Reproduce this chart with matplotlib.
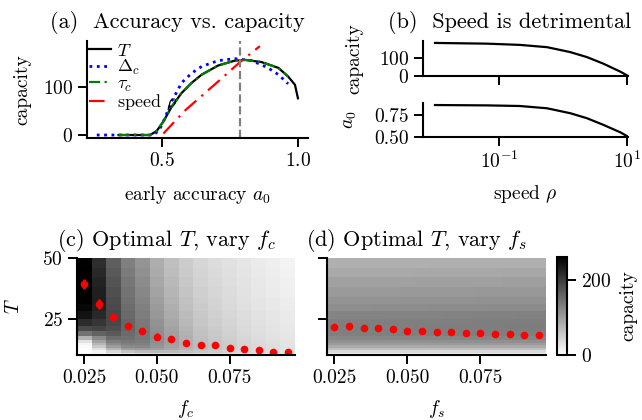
import numpy as np
import matplotlib
matplotlib.use("Agg")
import matplotlib.pyplot as plt

plt.rcParams["font.family"] = "serif"
plt.rcParams["font.serif"] = ["cmr10"]
plt.rcParams["mathtext.fontset"] = "cm"
plt.rcParams["axes.formatter.use_mathtext"] = True
plt.rcParams["axes.unicode_minus"] = False
plt.rcParams["font.size"] = 14
plt.rcParams["axes.linewidth"] = 1.5
for ax_ in ("xtick", "ytick"):
    plt.rcParams[f"{ax_}.major.width"] = 1.4
    plt.rcParams[f"{ax_}.major.size"] = 6.5
    plt.rcParams[f"{ax_}.labelsize"] = 14

# ---- (a) accuracy vs capacity ----
a0_T = [0.34, 0.40, 0.456, 0.48, 0.505, 0.536, 0.572, 0.609, 0.646, 0.707, 0.768,
        0.805, 0.866, 0.928, 0.964, 0.989, 1.0]
cap_T = [0, 0, 0, 8, 28, 59, 87, 108, 125, 144, 154, 155.5, 151, 139, 121, 104, 76]
a0_tau = [0.34, 0.40, 0.456, 0.48, 0.505, 0.536, 0.572, 0.609, 0.646, 0.707, 0.768,
          0.805, 0.866, 0.928, 0.964]
cap_tau = [0, 0, 0, 8, 28, 59, 87, 108, 125, 144, 154, 155.5, 151, 139, 121]
a0_delta = [0.26, 0.35, 0.468, 0.49, 0.505, 0.536, 0.572, 0.609, 0.646, 0.707, 0.768,
            0.83, 0.89, 0.928, 0.964]
cap_delta = [0, 0, 0, 10, 28, 70, 108, 128, 142, 154, 158, 154, 139, 125, 106]
a0_speed = [0.505, 0.583, 0.707, 0.787, 0.86]
cap_speed = [3, 50, 111, 151, 184]
a0_opt = 0.787

# ---- (b) speed is detrimental ----
speed = [0.01, 0.064, 0.21, 0.56, 1.29, 2.33, 4.2, 7.8, 10.0]
cap_speed_b = [187, 183, 176, 163, 135, 107, 70, 24, 2]
a0_speed_b = [0.862, 0.858, 0.851, 0.825, 0.769, 0.713, 0.638, 0.552, 0.507]

# ---- (c), (d) optimal T heatmaps ----
f_vals = [0.025, 0.03, 0.035, 0.04, 0.045, 0.05, 0.055, 0.06, 0.065, 0.07,
          0.075, 0.08, 0.085, 0.09, 0.095]
T_edges = [10, 11, 12, 13, 14, 15, 16, 18, 20, 22, 25, 28, 31, 34, 38, 42, 46, 50]
# capacity for each f_c column, rows from low T to high T
cap_fc = [
    [0, 0, 2, 5, 10, 30, 78, 143, 185, 215, 240, 252, 258, 260, 261, 260, 258],
    [0, 12, 30, 55, 75, 95, 120, 160, 190, 205, 218, 226, 229, 228, 224, 219, 213],
    [8, 40, 75, 100, 118, 132, 150, 168, 180, 186, 187, 185, 182, 179, 174, 169, 164],
    [18, 60, 100, 118, 130, 138, 146, 152, 156, 156, 153, 150, 146, 143, 140, 135, 130],
    [28, 70, 102, 122, 130, 134, 137, 138, 138, 136, 133, 130, 126, 122, 118, 113, 109],
    [32, 72, 98, 108, 112, 115, 117, 116, 113, 110, 106, 102, 98, 94, 90, 86, 83],
    [33, 70, 88, 94, 97, 99, 99, 97, 94, 90, 86, 82, 79, 76, 72, 68, 65],
    [32, 64, 76, 80, 81, 81, 81, 79, 76, 72, 69, 66, 63, 60, 57, 54, 52],
    [30, 57, 66, 68, 68, 67, 66, 63, 61, 58, 56, 53, 51, 49, 46, 44, 42],
    [28, 52, 59, 60, 60, 59, 57, 55, 53, 50, 48, 46, 44, 42, 40, 38, 36],
    [26, 46, 51, 52, 52, 51, 49, 47, 45, 43, 41, 39, 37, 36, 34, 32, 31],
    [24, 40, 44, 44, 44, 43, 41, 39, 38, 36, 35, 33, 31, 30, 29, 27, 26],
    [22, 36, 39, 39, 38, 37, 35, 34, 33, 31, 30, 28, 27, 25, 24, 22, 21],
    [20, 32, 34, 34, 33, 32, 30, 29, 28, 27, 26, 24, 23, 21, 20, 19, 18],
    [18, 28, 30, 29, 28, 27, 26, 25, 24, 23, 22, 20, 19, 17, 16, 14, 13],
]
# capacity for each T row (low T to high T), columns along f_s
cap_fs_rows = [
    [15, 15, 15, 15, 15, 15, 15, 15, 15, 15, 15, 15, 15, 15, 15],
    [39, 39, 39, 39, 39, 39, 39, 39, 39, 39, 39, 39, 39, 39, 39],
    [65, 65, 65, 65, 65, 65, 65, 65, 65, 65, 65, 65, 65, 65, 65],
    [88, 88, 88, 88, 88, 88, 88, 88, 88, 88, 88, 88, 88, 88, 88],
    [102, 102, 102, 102, 102, 102, 102, 103, 103, 103, 103, 103, 103, 103, 103],
    [112, 112, 112, 112, 112, 112, 113, 113, 113, 113, 113, 113, 113, 114, 114],
    [122, 122, 122, 122, 123, 123, 123, 123, 123, 124, 124, 124, 124, 124, 124],
    [129, 129, 129, 129, 129, 130, 130, 130, 130, 130, 131, 131, 131, 131, 131],
    [131, 131, 131, 131, 131, 131, 132, 132, 132, 132, 132, 132, 133, 133, 133],
    [130, 130, 130, 130, 130, 131, 131, 131, 131, 131, 132, 132, 132, 132, 132],
    [125, 125, 125, 125, 126, 126, 126, 126, 127, 127, 127, 127, 127, 128, 128],
    [115, 115, 115, 116, 116, 116, 116, 117, 117, 117, 117, 118, 118, 118, 118],
    [110, 110, 110, 110, 110, 111, 111, 111, 111, 111, 112, 112, 112, 112, 112],
    [103, 103, 103, 103, 103, 104, 104, 104, 104, 104, 105, 105, 105, 105, 105],
    [96, 96, 96, 96, 96, 96, 97, 97, 97, 97, 97, 97, 98, 98, 98],
    [88, 88, 88, 88, 88, 88, 89, 89, 89, 89, 89, 89, 90, 90, 90],
    [81, 81, 81, 81, 81, 81, 81, 82, 82, 82, 82, 82, 82, 82, 82],
]
T_opt_fc = [39.4, 31.1, 25.7, 22.1, 20.1, 17.6, 16.5, 15.1, 14.0, 14.0, 13.0,
            12.6, 11.95, 11.4, 11.4]
T_err_fc = [2.1, 2.0, 0.6, 0.6, 0.6, 1.5, 0.6, 0.6, 0.6, 0.6, 0.6, 0.6, 0.6, 0.6, 0.6]
T_opt_fs = [21.7, 21.8, 21.25, 21.25, 20.7, 20.1, 20.1, 19.6, 19.6, 19.2, 19.2,
            18.6, 18.6, 18.05, 18.05]
T_err_fs = [0.6, 1.3, 0.6, 0.6, 0.6, 0.6, 0.6, 0.6, 1.3, 0.6, 0.6, 1.3, 0.6, 0.6, 0.6]

W, H = 642, 420
fig = plt.figure(figsize=(W / 100, H / 100), dpi=100)


def px_axes(left, top, right, bottom):
    return fig.add_axes([left / W, 1 - bottom / H, (right - left) / W, (bottom - top) / H])


def despine(ax):
    ax.spines["top"].set_visible(False)
    ax.spines["right"].set_visible(False)


TITLE_FS = 16

# (a)
ax = px_axes(87, 41, 308, 138)
despine(ax)
ax.plot(a0_T, cap_T, "-", color="k", lw=1.6, label="$T$")
ax.plot(a0_delta, cap_delta, ":", color="b", lw=2.0, label=r"$\Delta_c$")
ax.plot(a0_tau, cap_tau, color="g", lw=1.6, dashes=(5, 2, 1, 2), label=r"$\tau_c$")
ax.plot(a0_speed, cap_speed, color="r", lw=1.6, dashes=(7, 3, 1, 3), label=r"speed $\rho$")
ax.axvline(a0_opt, color="gray", ls="--", lw=1.6)
ax.set_xlim(0.224, 1.037)
ax.set_ylim(-6.2, 194.6)
ax.set_xticks([0.5, 1.0])
ax.set_yticks([0, 100])
ax.set_xlabel(r"early accuracy $a_0$", labelpad=10)
ax.set_ylabel("capacity", labelpad=8)
ax.set_title("(a)  Accuracy vs. capacity", fontsize=TITLE_FS, x=0.41, pad=9)
ax.legend(loc="upper left", frameon=False, fontsize=13, handlelength=1.25,
          handletextpad=0.3, labelspacing=-0.05, borderpad=0.1, borderaxespad=0.0)

# (b)
axb1 = px_axes(423, 41, 628, 76)
axb2 = px_axes(423, 103, 628, 137)
for axb in (axb1, axb2):
    despine(axb)
    axb.set_xscale("log")
    axb.set_xlim(0.0065, 10.2)
    axb.set_xticks([0.1, 10])
    axb.minorticks_off()
axb1.plot(speed, cap_speed_b, color="k", lw=1.6)
axb1.set_ylim(0, 198)
axb1.set_yticks([0, 100])
axb1.set_xticklabels([])
axb1.set_ylabel("capacity", labelpad=11)
axb1.set_title("(b)  Speed is detrimental", fontsize=TITLE_FS, x=0.42, pad=9)
axb2.plot(speed, a0_speed_b, color="k", lw=1.6)
axb2.set_ylim(0.5, 0.885)
axb2.set_yticks([0.5, 0.75])
axb2.set_yticklabels(["0.50", "0.75"])
axb2.set_ylabel("$a_0$", labelpad=11)
axb2.set_xlabel(r"speed $\rho$", labelpad=8)

# (c), (d)
f_edges = np.concatenate([[f_vals[0] - 0.0025], np.array(f_vals) + 0.0025])
axc = px_axes(77, 258, 295, 355)
axd = px_axes(327, 258, 546, 355)
panels = (
    (axc, np.array(cap_fc).T, T_opt_fc, T_err_fc, "$f_c$", "(c)"),
    (axd, np.array(cap_fs_rows), T_opt_fs, T_err_fs, "$f_s$", "(d)"),
)
for axh, cap, T_opt, T_err, lab, tag in panels:
    despine(axh)
    mesh = axh.pcolormesh(f_edges, T_edges, cap, cmap="gray_r",
                          vmin=0, vmax=260, shading="flat")
    axh.errorbar(f_vals, T_opt, yerr=T_err, fmt="o", color="red", ms=4.5,
                 elinewidth=2, capsize=0)
    axh.set_xlim(f_edges[0], f_edges[-1])
    axh.set_ylim(10, 50)
    axh.set_xticks([0.025, 0.05, 0.075])
    axh.set_xticklabels(["0.025", "0.050", "0.075"])
    axh.set_yticks([25, 50])
    axh.set_xlabel(lab, labelpad=8)
    axh.set_title(f"{tag} Optimal $T$, vary " + lab, fontsize=TITLE_FS, x=0.41, pad=9)
axc.set_ylabel("$T$", labelpad=14)
axd.set_yticklabels([])

cax = px_axes(557, 257, 567, 355)
cb = fig.colorbar(mesh, cax=cax, ticks=[0, 200])
cb.outline.set_linewidth(1.5)
cb.set_label("capacity", labelpad=6)

fig.savefig("out.png", dpi=100)
